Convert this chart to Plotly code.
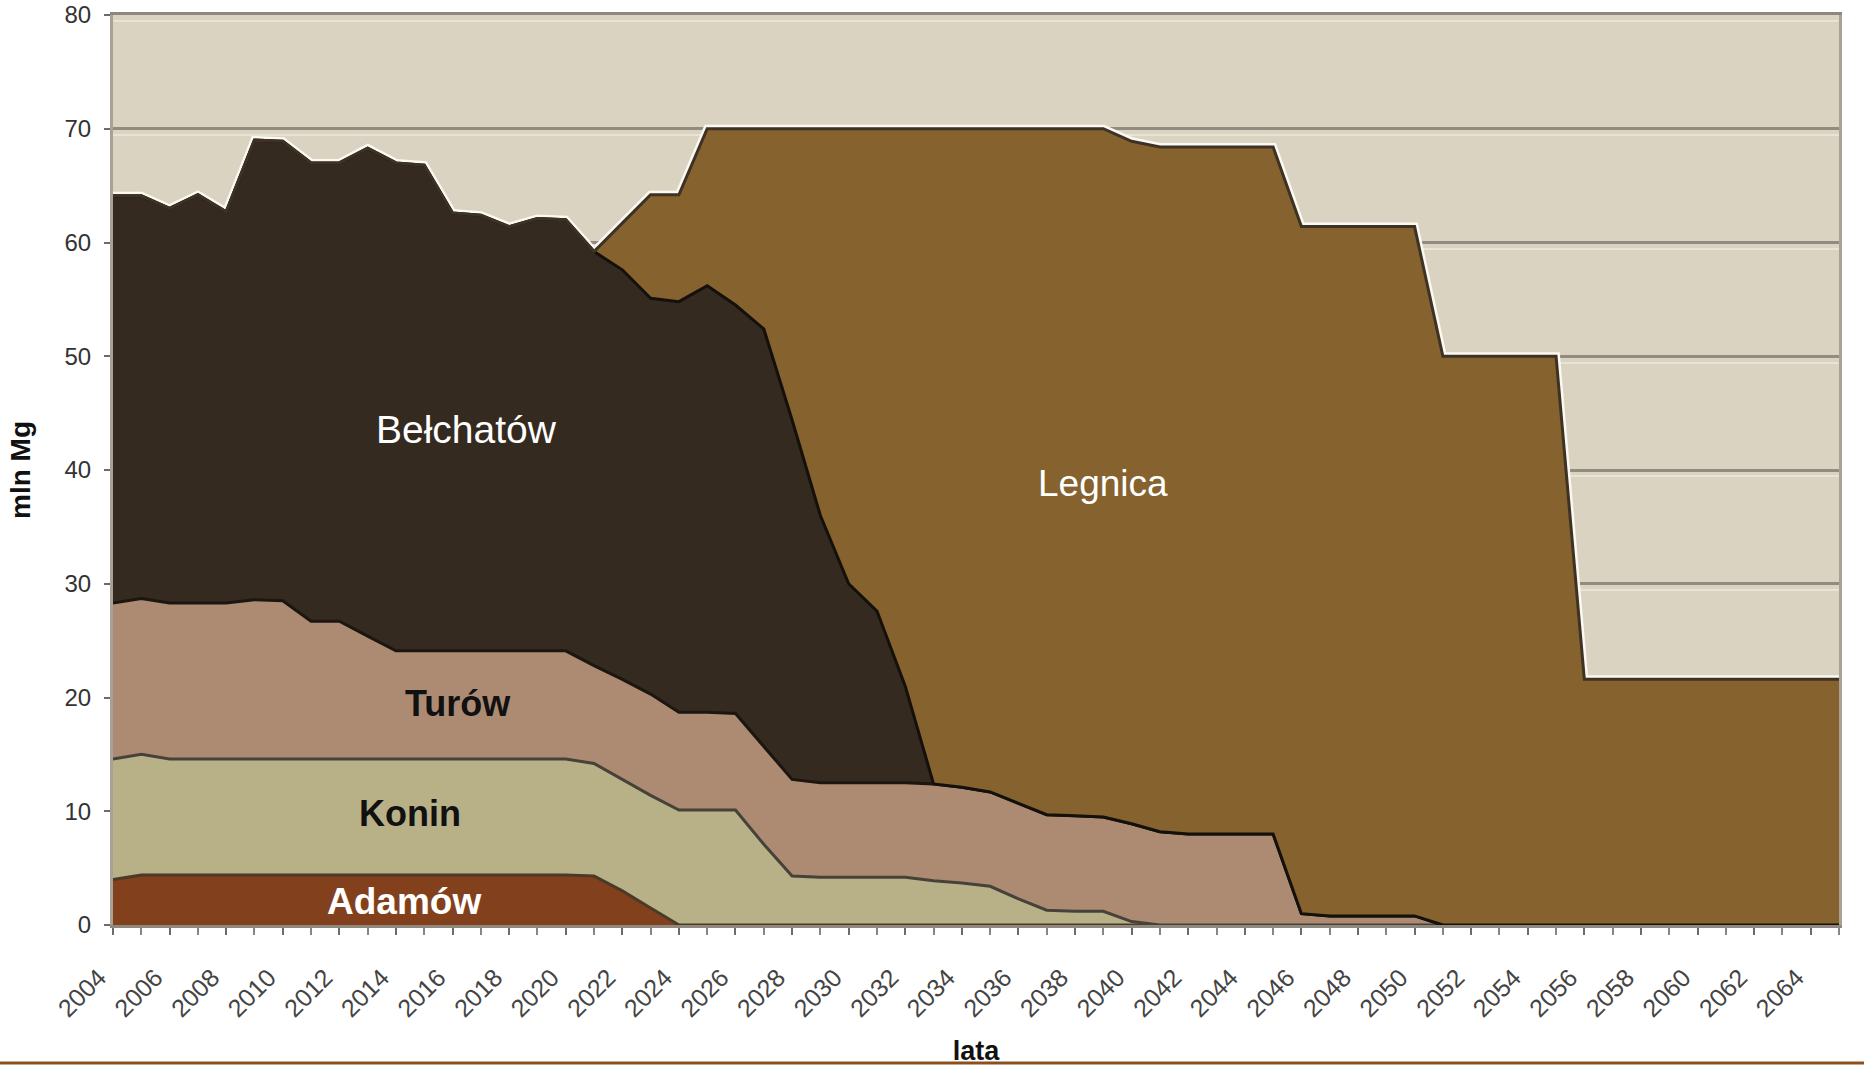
import numpy as np
import plotly.graph_objects as go

years = list(range(2004, 2066))

adamow = [4.0] + [4.4] * 16 + [4.3, 3.0, 1.5] + [0] * 42

konin = ([10.6, 10.6] + [10.2] * 15 +
         [9.9, 9.8, 9.9, 10.1, 10.1, 10.1, 7.1, 4.3, 4.2, 4.2, 4.2, 4.2,
          3.9, 3.7, 3.4, 2.3, 1.3, 1.2, 1.2, 0.3] + [0] * 25)

turow = ([13.7, 13.7, 13.7, 13.7, 13.7, 14.0, 13.9, 12.1, 12.1, 10.8] + [9.5] * 7 +
         [8.6, 8.8, 8.9, 8.6, 8.6, 8.5, 8.6, 8.5, 8.3, 8.3, 8.3, 8.3,
          8.5, 8.4, 8.3, 8.4, 8.4, 8.4, 8.3, 8.6, 8.2, 8.0, 8.0, 8.0, 8.0,
          1.0, 0.8, 0.8, 0.8, 0.8] + [0] * 15)

belchatow = ([35.8, 35.4, 34.7, 35.9, 34.4, 40.4, 40.4, 40.3, 40.3, 42.9,
              42.9, 42.7, 38.5, 38.3, 37.3, 38.0, 37.9, 36.4, 36.0, 34.8,
              36.1, 37.5, 35.9, 36.7, 31.6, 23.5, 17.5, 15.1, 8.5] + [0] * 33)

legnica = ([0] * 18 +
           [4.1, 9.1, 9.4, 13.8, 15.5, 17.6, 25.6, 34.0, 40.0, 42.4, 49.0,
            57.6, 57.9, 58.3, 59.3, 60.3, 60.4, 60.5, 60.0, 60.2,
            60.4, 60.4, 60.4, 60.4, 60.4, 60.6, 60.6, 60.6, 60.6] +
           [50.0] * 5 + [21.6] * 10)

series = [
    ("Adamów", adamow, "#82411C", "#4B3A28"),
    ("Konin", konin, "#B8B187", "#46423A"),
    ("Turów", turow, "#AD8B73", "#1C1610"),
    ("Bełchatów", belchatow, "#352A1F", "#14100C"),
    ("Legnica", legnica, "#86622E", "#3E3224"),
]

total = np.sum([s[1] for s in series], axis=0)

FONT = "Liberation Sans, Arial, sans-serif"

fig = go.Figure()

# white rim above the top edge, half of it gets covered by the fills
fig.add_trace(go.Scatter(x=years, y=total, mode="lines",
                         line=dict(color="#FBF9F2", width=8),
                         hoverinfo="skip", showlegend=False))

for name, vals, fill, edge in series:
    fig.add_trace(go.Scatter(
        x=years, y=vals, name=name, mode="lines", stackgroup="mines",
        fillcolor=fill, line=dict(color=edge, width=3),
        showlegend=False))

labels = [
    ("Bełchatów", 2016.5, 43.6, "white", "normal", 39),
    ("Legnica", 2039.0, 38.8, "white", "normal", 37),
    ("Turów", 2016.2, 19.5, "#111111", "bold", 36),
    ("Konin", 2014.5, 9.8, "#111111", "bold", 36),
    ("Adamów", 2014.3, 2.1, "white", "bold", 37),
]
for text, lx, ly, col, w, sz in labels:
    fig.add_annotation(x=lx, y=ly, text=text, showarrow=False,
                       font=dict(family=FONT, size=sz, color=col, weight=w))

# brown rule along the bottom of the picture
fig.add_shape(type="line", xref="paper", yref="paper",
              x0=-0.07, x1=1.02, y0=-0.1516, y1=-0.1516,
              line=dict(color="#8C4F1E", width=3))

fig.update_xaxes(
    range=[2004, 2065], tick0=2004, dtick=2, tickangle=-45,
    ticks="outside", ticklen=7, tickcolor="#6E6A64", tickwidth=2,
    minor=dict(dtick=1, ticks="outside", ticklen=7, tickcolor="#8A857E", tickwidth=2),
    showgrid=False, zeroline=False,
    showline=True, linecolor="#8E887E", linewidth=3, mirror=True,
    tickfont=dict(family=FONT, size=25, color="#444444"),
    ticklabelstandoff=18, ticklabelshift=-14,
    title=dict(text="lata", font=dict(family=FONT, size=27, color="#111111", weight="bold"),
               standoff=24),
)
fig.update_yaxes(
    range=[0, 80], dtick=10, ticks="outside", ticklen=6,
    tickcolor="#6E6A64", tickwidth=2,
    showgrid=True, gridcolor="#928B80", gridwidth=3,
    minor=dict(tick0=-0.55, dtick=10, showgrid=True, gridcolor="#E8E4D4", gridwidth=2),
    zeroline=False,
    showline=True, linecolor="#A8A296", linewidth=3, mirror=True,
    tickfont=dict(family=FONT, size=24, color="#333333"),
    ticklabelstandoff=8, ticklabeloverflow="allow",
    title=dict(text="mln Mg", font=dict(family=FONT, size=28, color="#111111", weight="bold"),
               standoff=26),
)

fig.update_layout(
    width=1864, height=1066,
    margin=dict(l=113, r=25, t=15, b=141, autoexpand=False),
    paper_bgcolor="white", plot_bgcolor="#DAD3C1",
    showlegend=False,
)

# drop the page's default 8px body margin so the figure fills the window
fig.write_html("out.html", config={"displayModeBar": False},
               post_script="document.body.style.margin='0';")
